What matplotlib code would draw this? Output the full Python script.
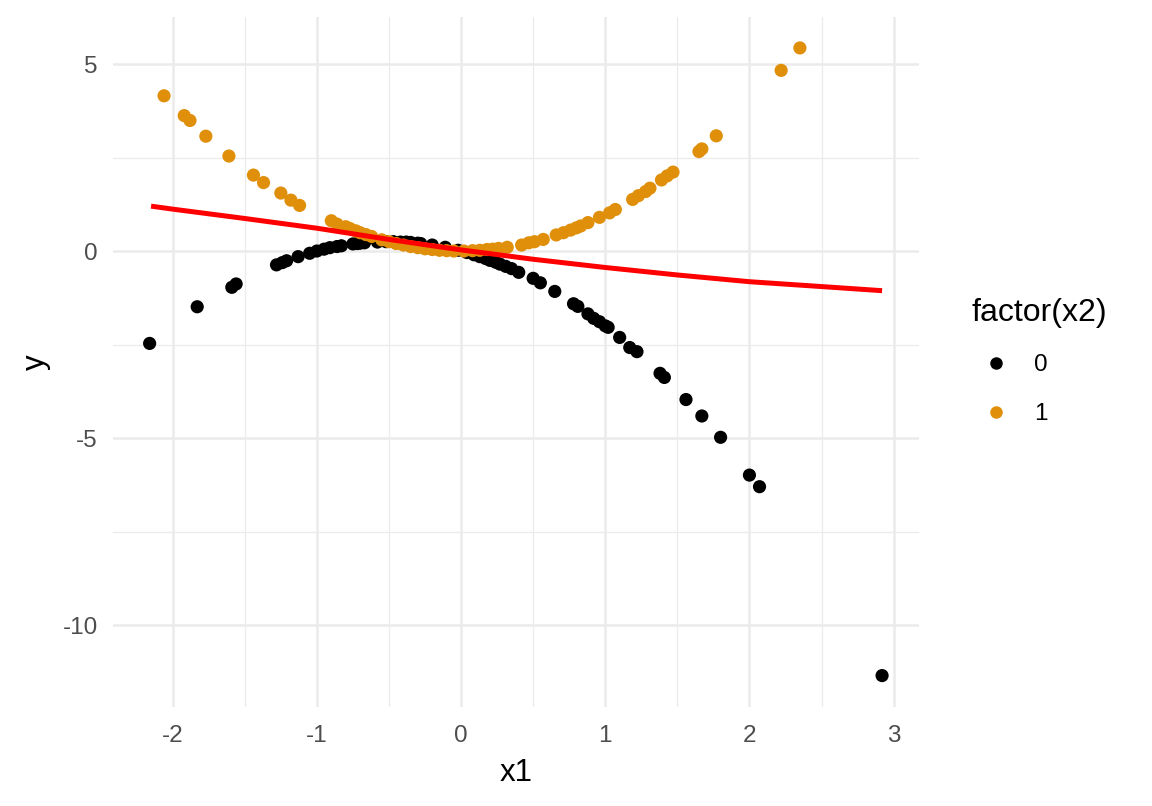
import matplotlib
matplotlib.use("Agg")
import matplotlib.pyplot as plt
from matplotlib.lines import Line2D
import numpy as np

plt.rcParams['font.family'] = ['Liberation Sans', 'DejaVu Sans']
plt.rcParams['axes.unicode_minus'] = False

# x2 == 0 points (black)
x1_g0 = [-2.16, -1.83, -1.59, -1.56, -1.28, -1.24, -1.21, -1.13, -1.05, -1.00,
         -0.95, -0.91, -0.86, -0.83, -0.75, -0.72, -0.70, -0.67, -0.58, -0.52,
         -0.47, -0.42, -0.38, -0.35, -0.30, -0.28, -0.20, -0.11, -0.02, 0.04,
         0.09, 0.13, 0.17, 0.20, 0.24, 0.27, 0.31, 0.35, 0.40, 0.50,
         0.55, 0.65, 0.78, 0.81, 0.88, 0.92, 0.96, 1.00, 1.02, 1.10,
         1.17, 1.22, 1.38, 1.41, 1.56, 1.67, 1.80, 2.00, 2.07, 2.92]
y_g0 = [-2.47, -1.49, -0.97, -0.88, -0.37, -0.31, -0.26, -0.15, -0.06, 0.00,
        0.05, 0.09, 0.12, 0.14, 0.19, 0.20, 0.21, 0.22, 0.24, 0.25,
        0.25, 0.24, 0.24, 0.23, 0.21, 0.20, 0.16, 0.10, 0.02, -0.04,
        -0.10, -0.15, -0.20, -0.25, -0.30, -0.35, -0.41, -0.47, -0.57, -0.73,
        -0.85, -1.08, -1.41, -1.48, -1.68, -1.80, -1.89, -2.00, -2.04, -2.31,
        -2.58, -2.69, -3.27, -3.38, -3.97, -4.41, -4.98, -5.99, -6.30, -11.35]

# x2 == 1 points (orange)
x1_g1 = [-2.06, -1.92, -1.88, -1.77, -1.61, -1.44, -1.37, -1.25, -1.18, -1.12,
         -0.90, -0.86, -0.80, -0.77, -0.73, -0.70, -0.66, -0.62, -0.55, -0.50,
         -0.45, -0.40, -0.35, -0.30, -0.25, -0.20, -0.15, -0.10, -0.05, 0.02,
         0.08, 0.13, 0.18, 0.22, 0.26, 0.32, 0.42, 0.47, 0.51, 0.57,
         0.66, 0.71, 0.76, 0.80, 0.83, 0.88, 0.96, 1.03, 1.07, 1.19,
         1.23, 1.28, 1.31, 1.39, 1.43, 1.47, 1.65, 1.67, 1.77, 2.22, 2.35]
y_g1 = [4.15, 3.62, 3.49, 3.07, 2.54, 2.03, 1.83, 1.55, 1.36, 1.22,
        0.81, 0.72, 0.65, 0.60, 0.54, 0.49, 0.44, 0.39, 0.30, 0.25,
        0.20, 0.16, 0.12, 0.09, 0.06, 0.04, 0.02, 0.01, 0.00, 0.00,
        0.01, 0.02, 0.04, 0.05, 0.07, 0.10, 0.16, 0.22, 0.25, 0.31,
        0.43, 0.49, 0.56, 0.62, 0.67, 0.76, 0.90, 1.02, 1.11, 1.38,
        1.48, 1.59, 1.68, 1.90, 2.01, 2.11, 2.66, 2.73, 3.08, 4.83, 5.43]

# fitted curve (red)
fit_x = [-2.15, -2.0, -1.5, -1.0, -0.5, 0.0, 0.5, 1.0, 1.5, 2.0, 2.5, 2.92]
fit_y = [1.20, 1.12, 0.87, 0.61, 0.31, 0.03, -0.22, -0.44, -0.64, -0.82, -0.95, -1.06]

groups = ["0", "1"]
colors = ["#000000", "#E08F0A"]

fig = plt.figure(figsize=(11.52, 8.06), dpi=100)
ax = fig.add_axes([113 / 1152, 1 - 707 / 806, (918.7 - 113) / 1152, (707 - 16.5) / 806])

ax.scatter(x1_g0, y_g0, s=90, color=colors[0], edgecolors="none", zorder=3)
ax.scatter(x1_g1, y_g1, s=90, color=colors[1], edgecolors="none", zorder=3)
ax.plot(fit_x, fit_y, color="#FF0000", lw=3.6, zorder=4, solid_capstyle="butt")

ax.set_xlim(-2.414, 3.174)
ax.set_ylim(-12.19, 6.27)
ax.set_xticks([-2, -1, 0, 1, 2, 3])
ax.set_xticks([-1.5, -0.5, 0.5, 1.5, 2.5], minor=True)
ax.set_yticks([-10, -5, 0, 5])
ax.set_yticks([-7.5, -2.5, 2.5], minor=True)
ax.grid(True, which="major", color="#EBEBEB", lw=1.8)
ax.grid(True, which="minor", color="#EBEBEB", lw=0.9)
ax.set_axisbelow(True)
for s in ax.spines.values():
    s.set_visible(False)
ax.tick_params(which="both", length=0)
ax.tick_params(axis="x", labelsize=17.5, colors="#4D4D4D", pad=13)
ax.tick_params(axis="y", labelsize=17.5, colors="#4D4D4D", pad=11)
ax.set_xlabel("x1", fontsize=22.5, labelpad=8)
ax.set_ylabel("y", fontsize=22.5, labelpad=8)

handles = [Line2D([], [], marker="o", ls="none", color=c, markersize=9,
                  markeredgewidth=0) for c in colors]
leg = fig.legend(handles, groups, title="factor(x2)", loc="upper left",
                 bbox_to_anchor=(962 / 1152, 1 - 288 / 806), frameon=False,
                 fontsize=17.5, title_fontsize=23, labelspacing=1.1,
                 handletextpad=0.55, alignment="left", borderaxespad=0)

fig.savefig("out.png", dpi=100)
